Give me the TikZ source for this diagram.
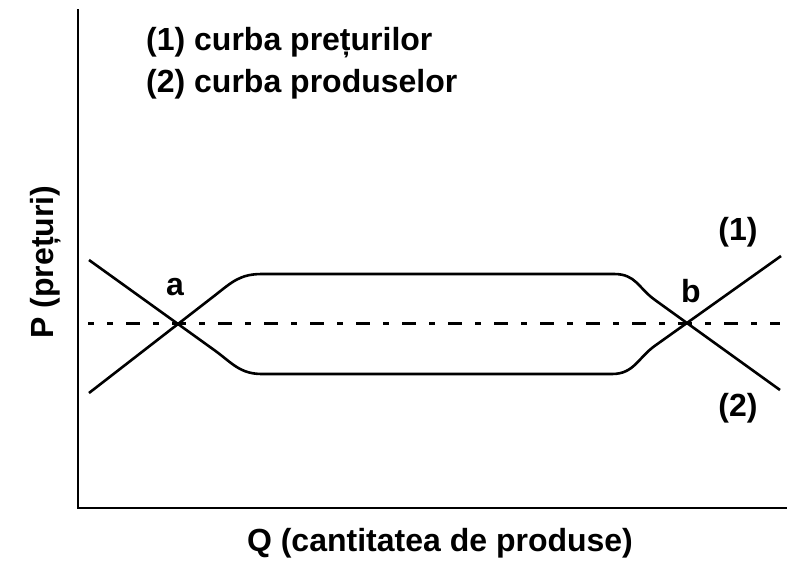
\documentclass[tikz,border=0pt]{standalone}
\usepackage{fontspec}
\setmainfont{Liberation Sans}
\begin{document}
\begin{tikzpicture}[x=1pt,y=-1pt,
  lbl/.style={font=\fontsize{32}{38}\selectfont\bfseries, inner sep=0pt},
  axis/.style={line width=2pt, line cap=rect},
  curve/.style={line width=2.6pt, line join=round},
  dashline/.style={line width=3pt, dash pattern=on 6pt off 13pt on 14pt off 13pt, dash phase=27pt}]
\useasboundingbox (0,0) rectangle (787,560);
% axes
\coordinate (ytop) at (78,10);
\coordinate (origin) at (78,508);
\coordinate (xend) at (787,508);
\draw[axis] (ytop) -- (origin) -- (xend);
% key points
\coordinate (a) at (178,324);
\coordinate (b) at (687,323);
\coordinate (dl) at (88,323.5);
\coordinate (dr) at (780,323.5);
\draw[dashline] (dl) -- (dr);
% curve (2): from lower-left up, flat top, down to lower-right
\coordinate (c2s) at (89,393);
\coordinate (c2e) at (780,390);
\draw[curve] (c2s) -- (215,295.3) .. controls (232,282) and (240,274) .. (262,274)
  -- (614,274) .. controls (636,274) and (638,287.8) .. (655,300) -- (c2e);
% curve (1): from upper-left down, flat bottom, up to upper-right
\coordinate (c1s) at (89,260);
\coordinate (c1e) at (781,256);
\draw[curve] (c1s) -- (215,350.6) .. controls (232,363) and (240,374) .. (262,374)
  -- (612,374) .. controls (634,374) and (638,357.8) .. (655,345.7) -- (c1e);
% labels
\node[lbl, anchor=base] (la) at (175,295) {a};
\node[lbl, anchor=base] (lb) at (691,302) {b};
\node[lbl, anchor=base] (l1) at (738,240) {(1)};
\node[lbl, anchor=base] (l2) at (738,416) {(2)};
\node[lbl, anchor=base west] (k1) at (146,50) {(1) curba prețurilor};
\node[lbl, anchor=base west] (k2) at (146,92) {(2) curba produselor};
\node[lbl, anchor=base] (qx) at (440,551) {Q (cantitatea de produse)};
\node[lbl, anchor=base, rotate=90] (py) at (53,262) {P (prețuri)};
\end{tikzpicture}
\end{document}
